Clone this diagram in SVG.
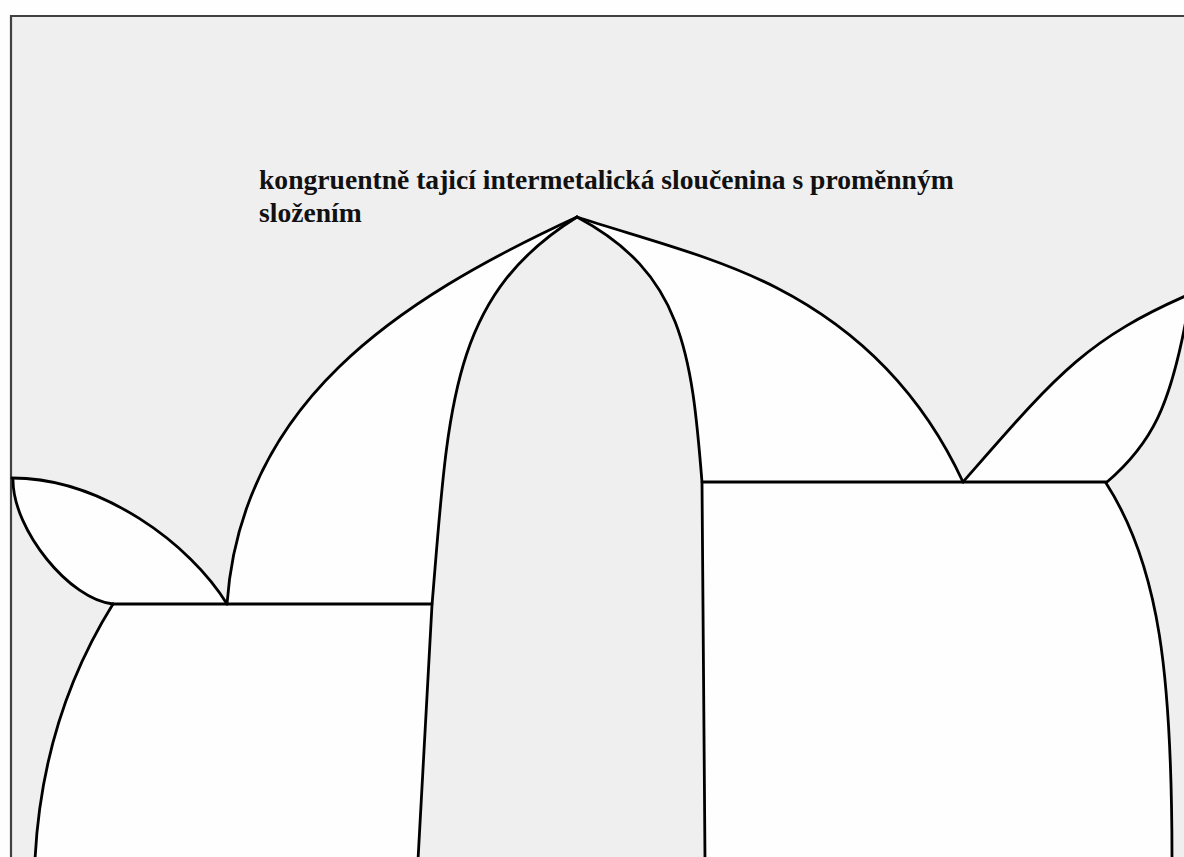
<svg xmlns="http://www.w3.org/2000/svg" width="1184" height="857" viewBox="0 0 1184 857">
  <style>
    .bg { fill: #efefef; }
    .ph { fill: #fefefe; stroke: none; }
    .ln { fill: none; stroke: #000; stroke-width: 2.8; stroke-linejoin: round; stroke-linecap: round; }
    .frame { fill: none; stroke: #404040; stroke-width: 2.2; }
    .lbl { font-family: "Liberation Serif", "Times New Roman", serif; font-weight: bold; font-size: 27.6px; fill: #111; }
  </style>
  <rect x="0" y="0" width="1184" height="857" fill="#fefefe"/>
  <rect class="bg" x="11" y="16" width="1173" height="841"/>
  <path class="frame" d="M11,857 L11,16 L1184,16"/>

  <g id="phases">
    <path id="left-lens" class="ph" d="M12,478 C102,478 190.6,544.5 227,604 L113,604 C70,600 13,530 13,480 Z"/>
    <path id="left-region" class="ph" d="M113,604 L227,604 C241,404 395,301 577,217 C449.5,296.5 448.8,405 432,605 L418,857 L35,857 C41,737 81.2,655 113,604 Z"/>
    <path id="right-region" class="ph" d="M577,217 C643.5,238.7 714.8,256 777,288 C865.9,333.7 925,400 963,482 L1106,483 C1160,567 1172,677 1172,857 L705,857 L702,482 C691.6,352 682.6,273.4 577,217 Z"/>
    <path id="right-lens" class="ph" d="M963,482 C1055,377 1084,340 1190,294 L1186,320 C1170,404.6 1152.6,443 1107,482 Z"/>
  </g>

  <g id="connectors">
    <path class="ln" d="M12,478 C102,478 190.6,544.5 227,604"/>
    <path class="ln" d="M13,480 C13,530 70,600 113,604"/>
    <path class="ln" d="M113,604 L432,604"/>
    <path class="ln" d="M113,604 C81.2,655 41,737 35,860"/>
    <path class="ln" d="M227,604 C241,404 395,301 577,217"/>
    <path class="ln" d="M577,217 C449.5,296.5 448.8,405 432,605 L418,860"/>
    <path class="ln" d="M577,217 C682.6,273.4 691.6,352 702,482 L705,860"/>
    <path class="ln" d="M577,217 C643.5,238.7 714.8,256 777,288 C865.9,333.7 925,400 963,482"/>
    <path class="ln" d="M702,482 L1106,482"/>
    <path class="ln" d="M963,482 C1055,377 1084,340 1190,294"/>
    <path class="ln" d="M1107,482 C1152.6,443 1170,404.6 1186,320"/>
    <path class="ln" d="M1106,483 C1160,567 1172,677 1172,860"/>
  </g>

  <g id="label">
    <text class="lbl" x="259" y="189">kongruentně tajicí intermetalická sloučenina s proměnným</text>
    <text class="lbl" x="259" y="222">složením</text>
  </g>
</svg>
